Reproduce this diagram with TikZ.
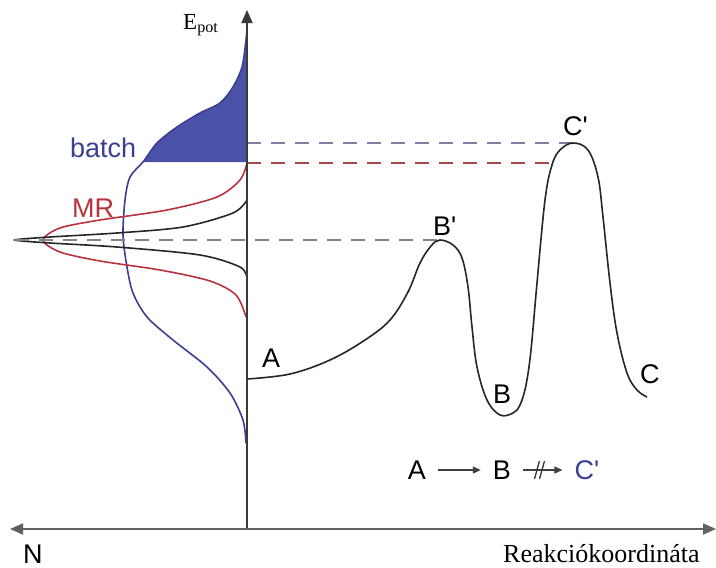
\documentclass[tikz,border=0pt]{standalone}
\usepackage{fontspec}
\setmainfont{Liberation Serif}
\setsansfont[Ligatures=TeXOff]{Liberation Sans}
\definecolor{batchc}{HTML}{4A52A8}
\definecolor{batchl}{HTML}{3B3F94}
\definecolor{mrc}{HTML}{B8333D}
\definecolor{axc}{HTML}{3A3A3A}
\definecolor{dgray}{HTML}{858585}
\definecolor{dblue}{HTML}{7E7EA4}
\definecolor{dred}{HTML}{A84848}
\usetikzlibrary{arrows.meta,calc}
\tikzset{
  >={Triangle[length=13pt,width=11pt]},
  lab/.style={font=\sffamily\fontsize{27}{30}\selectfont,inner sep=0pt},
  slab/.style={font=\fontsize{26}{30}\selectfont,inner sep=0pt},
  rnode/.style={lab,inner xsep=12pt},
  axis/.style={draw=axc,line width=1.8pt},
  curve/.style={line width=1.6pt},
  dline/.style={line width=2pt,dash pattern=on 14pt off 10pt},
  rarr/.style={->,>={Triangle[length=8pt,width=7pt]},line width=1.3pt,draw=black!75},
}
\begin{document}
\begin{tikzpicture}[x=1pt,y=-1pt]
\useasboundingbox (0,0) rectangle (716,568);
\coordinate (O) at (247,529);
\coordinate (Ytop) at (247,10);
\coordinate (Xl) at (10,529);
\coordinate (Xr) at (716,529);
\coordinate (tip) at (15,240);
\coordinate (Bp) at (440,240);
\coordinate (Cp) at (573,143);
\coordinate (Cr) at (552,163);
\coordinate (Cax) at (247,143);
\coordinate (Rax) at (247,163);

% distributions
\fill[batchc] plot[smooth] coordinates {(247,28) (246,40) (242,67) (233,87) (220,103) (200,113) (177,127) (157,143) (143,162)} -- (247,162) -- cycle;
\draw[batchl,curve] plot[smooth] coordinates {(247,28) (246,40) (242,67) (233,87) (220,103) (200,113) (177,127) (157,143) (143,162) (130,177) (125,200) (123,235) (127,267) (133,293) (147,317) (173,340) (207,367) (230,393) (243,420) (246,443)};
\draw[mrc,curve] plot[smooth] coordinates {(247,163) (240,180) (217,197) (167,210) (100,220) (60,228) (43,240) (60,252) (100,261) (160,270) (210,281) (236,295) (246,317)};
\draw[black!85,curve] plot[smooth] coordinates {(247,200) (233,213) (183,227) (117,233) (50,237) (tip) (50,243) (117,247) (200,255) (240,267) (247,278)};

\draw[dline,dgray] (tip) -- (Bp);
\draw[dline,dblue] (Cax) -- (Cp);
\draw[dline,dred] (Rax) -- (Cr);

% axes
\draw[axis,->] (O) -- (Ytop);
\draw[axis,draw=axc!80,<->] (Xl) -- (Xr);

% energy profile
\draw[black!85,curve] plot[smooth,tension=0.6] coordinates {(247,379) (290,374) (330,360) (365,340) (390,320) (408,292) (420,263) (431,246) (Bp) (453,245) (462,258) (468,287) (472,327) (477,367) (487,400) (500,415) (513,413) (520,405) (526,385) (531,350) (537,283) (545,200) (552,165) (560,150) (Cp) (588,150) (598,177) (603,217) (610,283) (617,333) (627,373) (637,390) (647,397)};

\node[lab,anchor=base west,text=batchl] (batch) at (70,157) {batch};
\node[lab,anchor=base west,text=mrc] (mr) at (72,217) {MR};
\node[lab,anchor=base west] (lA) at (262,367) {A};
\node[lab,anchor=base west] (lBp) at (433,235) {B'};
\node[lab,anchor=base west] (lB) at (493,403) {B};
\node[lab,anchor=base west] (lCp) at (563,135) {C'};
\node[lab,anchor=base west] (lC) at (640,383) {C};

\node[slab,font=\fontsize{23}{26}\selectfont,anchor=base west] (epot) at (183,29) {E\textsubscript{pot}};
\node[lab,anchor=base west] (n) at (23,563) {N};
\node[slab,anchor=base west] (rk) at (503,562) {Reakciókoordináta};

\node[rnode] (rA) at (417,470) {A};
\node[rnode] (rB) at (502,470) {B};
\node[rnode,text=batchl] (rC) at (587,470) {C'};
\draw[rarr] (rA) -- (rB);
\draw[rarr] (rB) -- coordinate[pos=0.44] (brk) (rC);
\draw[line width=1.3pt,black!80] ($(brk)+(-6,9)$) -- ($(brk)+(-1,-9)$);
\draw[line width=1.3pt,black!80] ($(brk)+(-1,9)$) -- ($(brk)+(4,-9)$);
\end{tikzpicture}
\end{document}
